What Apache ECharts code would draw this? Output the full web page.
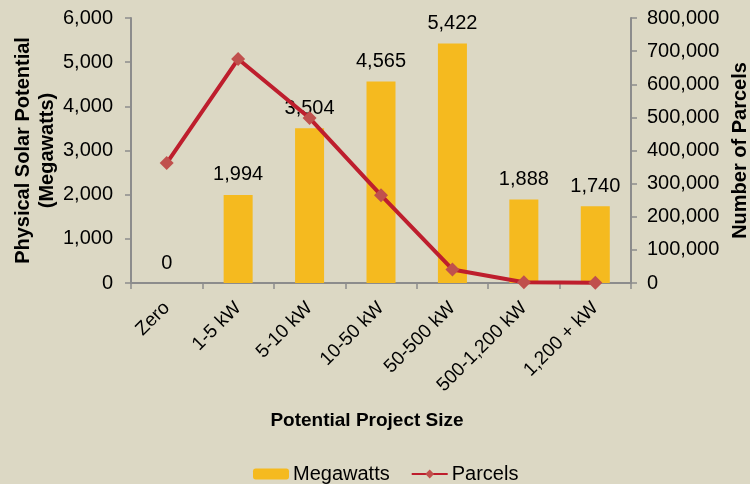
<!DOCTYPE html>
<html><head><meta charset="utf-8">
<script src="https://cdn.jsdelivr.net/npm/echarts@6/dist/echarts.min.js"></script>
<style>html,body{margin:0;padding:0;background:#DCD8C4;}#c{width:750px;height:484px;}</style>
</head><body><div id="c"></div>
<script>
const categories = ["Zero", "1-5 kW", "5-10 kW", "10-50 kW", "50-500 kW", "500-1,200 kW", "1,200 + kW"];
const megawatts = [0, 1994, 3504, 4565, 5422, 1888, 1740];
const parcels = [362000, 676000, 498000, 265000, 41000, 2000, 500];
const leftTicks = {min: 0, max: 6000, interval: 1000};
const rightTicks = {min: 0, max: 800000, interval: 100000};

const fmt = v => v.toLocaleString('en-US');
const font = 'Liberation Sans, Arial, sans-serif';
const axisLine = {show: true, lineStyle: {color: '#8C8C8C', width: 2}};
const tick = {show: true, length: 6, lineStyle: {color: '#8C8C8C', width: 1.5}};
const chart = echarts.init(document.getElementById('c'));
chart.setOption({
  backgroundColor: '#DCD8C4',
  textStyle: {fontFamily: font},
  grid: {left: 131, right: 119, top: 18, bottom: 201, containLabel: false, outerBoundsMode: 'none'},
  legend: {
    left: 248, top: 459, itemWidth: 36, itemHeight: 11, itemGap: 21,
    textStyle: {fontSize: 20, color: '#000', fontFamily: font, padding: [0, 0, 0, -1]},
    data: ['Megawatts', 'Parcels']
  },
  xAxis: {
    type: 'category', data: categories,
    axisLine: axisLine,
    axisTick: tick,
    axisLabel: {rotate: 45, fontSize: 19, color: '#000', margin: 22, interval: 0},
    name: 'Potential Project Size', nameLocation: 'middle', nameGap: 128, nameMoveOverlap: false,
    nameTextStyle: {fontSize: 19, fontWeight: 'bold', color: '#000', padding: [0, 28, 0, 0]}
  },
  yAxis: [{
    type: 'value', min: leftTicks.min, max: leftTicks.max, interval: leftTicks.interval,
    axisLine: axisLine,
    axisTick: tick,
    splitLine: {show: false},
    axisLabel: {fontSize: 20, color: '#000', formatter: fmt, margin: 18},
    name: 'Physical Solar Potential\n(Megawatts)', nameLocation: 'middle', nameGap: 72, nameRotate: 90, nameMoveOverlap: false,
    nameTextStyle: {fontSize: 20, fontWeight: 'bold', color: '#000', lineHeight: 24}
  }, {
    type: 'value', min: rightTicks.min, max: rightTicks.max, interval: rightTicks.interval,
    axisLine: axisLine,
    axisTick: tick,
    splitLine: {show: false},
    axisLabel: {fontSize: 20, color: '#000', formatter: fmt, margin: 16},
    name: 'Number of Parcels', nameLocation: 'middle', nameGap: 99, nameRotate: 90, nameMoveOverlap: false,
    nameTextStyle: {fontSize: 20, fontWeight: 'bold', color: '#000'}
  }],
  series: [{
    name: 'Megawatts', type: 'bar', data: megawatts, yAxisIndex: 0, barWidth: 29,
    itemStyle: {color: '#F5BA1F'},
    label: {show: true, position: 'top', distance: 10, fontSize: 20, color: '#000', formatter: p => fmt(p.value)}
  }, {
    name: 'Parcels', type: 'line', data: parcels, yAxisIndex: 1,
    lineStyle: {color: '#BE1E2D', width: 4},
    itemStyle: {color: '#C0504D'},
    symbol: 'diamond', symbolSize: 14, z: 5
  }]
});
</script></body></html>
